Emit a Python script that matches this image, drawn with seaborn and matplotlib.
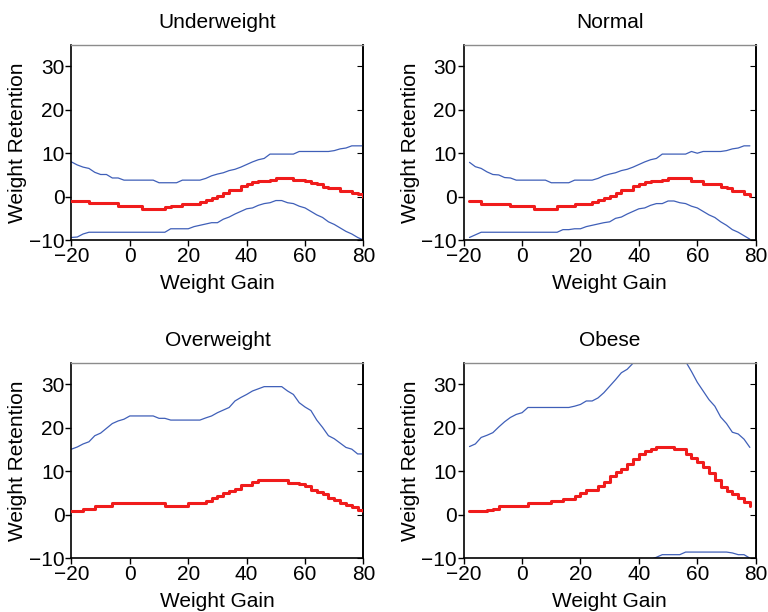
import numpy as np
import pandas as pd
import seaborn as sns
import matplotlib.pyplot as plt

# x grids (weight gain)
gain_full = np.arange(-20, 81, 2)   # -20 .. 80
gain_short = np.arange(-18, 79, 2)  # -18 .. 78

# Underweight
under_upper = [8.0, 7.3, 6.8, 6.5, 5.6, 5.1, 5.1, 4.3, 4.3, 3.8,
               3.8, 3.8, 3.8, 3.8, 3.8, 3.2, 3.2, 3.2, 3.2, 3.8,
               3.8, 3.8, 3.8, 4.2, 4.8, 5.2, 5.5, 6.0, 6.3, 6.8,
               7.4, 8.0, 8.5, 8.8, 9.8, 9.8, 9.8, 9.8, 9.8, 10.4,
               10.4, 10.4, 10.4, 10.4, 10.4, 10.6, 11.0, 11.2, 11.7, 11.7,
               11.7]
under_mid = [-0.9, -0.9, -1.0, -1.45, -1.45, -1.45, -1.45, -1.45, -2.1, -2.1,
             -2.1, -2.1, -2.75, -2.75, -2.75, -2.75, -2.4, -2.1, -2.1, -1.6,
             -1.6, -1.6, -1.3, -0.8, -0.3, 0.2, 0.85, 1.6, 1.6, 2.5,
             3.0, 3.3, 3.7, 3.7, 3.9, 4.3, 4.3, 4.3, 3.75, 3.75,
             3.5, 3.1, 3.0, 2.3, 2.0, 2.0, 1.4, 1.4, 0.85, 0.7,
             0.0]
under_lower = [-9.4, -9.3, -8.6, -8.2, -8.2, -8.2, -8.2, -8.2, -8.2, -8.2,
               -8.2, -8.2, -8.2, -8.2, -8.2, -8.2, -8.2, -7.4, -7.4, -7.4,
               -7.4, -6.9, -6.6, -6.3, -6.0, -6.0, -5.2, -4.7, -4.0, -3.4,
               -2.8, -2.6, -2.0, -1.6, -1.4, -0.9, -0.9, -1.4, -1.6, -2.2,
               -2.6, -3.4, -4.2, -4.8, -5.8, -6.4, -7.2, -8.0, -8.6, -9.4,
               -10.0]

# Normal
normal_upper = [7.9, 6.9, 6.5, 5.7, 5.1, 5.0, 4.4, 4.3, 3.8, 3.8,
                3.8, 3.8, 3.8, 3.8, 3.2, 3.2, 3.2, 3.2, 3.8, 3.8,
                3.8, 3.8, 4.2, 4.8, 5.2, 5.5, 6.0, 6.3, 6.8, 7.4,
                8.0, 8.5, 8.8, 9.8, 9.8, 9.8, 9.8, 9.8, 10.4, 10.0,
                10.4, 10.4, 10.4, 10.4, 10.6, 11.0, 11.2, 11.7, 11.7]
normal_mid = [-1.0, -1.0, -1.65, -1.65, -1.65, -1.65, -1.65, -2.2, -2.2, -2.2,
              -2.2, -2.9, -2.9, -2.9, -2.9, -2.2, -2.2, -2.2, -1.65, -1.65,
              -1.65, -1.3, -0.8, -0.3, 0.2, 0.85, 1.6, 1.6, 2.5, 3.0,
              3.3, 3.7, 3.7, 3.9, 4.3, 4.3, 4.3, 4.3, 3.6, 3.6,
              3.0, 3.0, 3.0, 2.3, 1.9, 1.3, 1.3, 0.7, 0.1]
normal_lower = [-9.4, -8.8, -8.2, -8.2, -8.2, -8.2, -8.2, -8.2, -8.2, -8.2,
                -8.2, -8.2, -8.2, -8.2, -8.2, -8.2, -7.6, -7.6, -7.4, -7.4,
                -6.9, -6.6, -6.3, -6.0, -5.8, -5.0, -4.7, -4.0, -3.4, -2.8,
                -2.6, -2.0, -1.6, -1.6, -1.0, -1.0, -1.4, -1.6, -2.2, -2.6,
                -3.4, -4.2, -4.8, -5.8, -6.6, -7.6, -8.2, -9.0, -9.8]

# Overweight
over_upper = [15.1, 15.6, 16.3, 16.8, 18.2, 18.8, 19.9, 21.0, 21.6, 22.0,
              22.75, 22.75, 22.75, 22.75, 22.75, 22.2, 22.2, 21.8, 21.8, 21.8,
              21.8, 21.8, 21.8, 22.3, 22.75, 23.5, 24.1, 24.7, 26.2, 27.0,
              27.7, 28.5, 29.0, 29.5, 29.5, 29.5, 29.5, 28.5, 27.7, 25.8,
              24.8, 24.0, 21.8, 20.1, 18.2, 17.5, 16.5, 15.5, 15.1, 14.0,
              14.0]
over_mid = [0.9, 0.9, 1.4, 1.4, 2.0, 2.0, 2.0, 2.6, 2.6, 2.6,
            2.6, 2.6, 2.6, 2.6, 2.6, 2.6, 2.0, 2.0, 2.0, 2.0,
            2.6, 2.6, 2.6, 3.1, 3.8, 4.2, 5.0, 5.4, 6.0, 6.9,
            6.9, 7.5, 7.9, 7.9, 7.9, 7.9, 7.9, 7.4, 7.4, 7.0,
            6.6, 5.8, 5.3, 4.8, 3.8, 3.4, 2.7, 2.2, 1.8, 1.0,
            0.8]

# Obese
obese_upper = [15.7, 16.3, 17.8, 18.3, 18.9, 20.2, 21.4, 22.4, 23.1, 23.5,
               24.7, 24.7, 24.7, 24.7, 24.7, 24.7, 24.7, 24.7, 25.0, 25.4,
               26.2, 26.2, 26.9, 28.1, 29.6, 31.1, 32.7, 33.5, 34.9, 37.0,
               38.5, 39.5, 40.0, 40.0, 39.5, 38.5, 37.0, 35.3, 33.0, 30.5,
               28.5, 26.5, 25.0, 22.5, 21.0, 19.0, 18.6, 17.4, 15.5]
obese_mid = [0.9, 0.9, 0.9, 1.1, 1.4, 2.0, 2.0, 2.0, 2.0, 2.0,
             2.6, 2.6, 2.6, 2.6, 3.1, 3.1, 3.7, 3.7, 4.3, 4.9,
             5.6, 5.6, 6.6, 7.5, 9.0, 9.8, 10.6, 11.6, 12.8, 14.0,
             14.6, 15.1, 15.7, 15.7, 15.7, 15.1, 15.1, 14.0, 13.0, 12.1,
             11.0, 9.6, 8.0, 6.4, 5.4, 4.8, 3.9, 3.0, 2.0]
obese_lower = [-21, -21, -20.5, -20, -20, -19.5, -19, -19, -18.5, -18.5,
               -18, -18, -18, -18, -18, -17.5, -17, -16.5, -16, -15.5,
               -15, -14.5, -14, -13.5, -13, -12.5, -12, -11.5, -11, -10.8,
               -10.5, -10.3, -9.8, -9.2, -9.2, -9.2, -9.2, -8.6, -8.6, -8.6,
               -8.6, -8.6, -8.6, -8.6, -8.6, -8.8, -9.2, -9.2, -10.0]

panels = [
    ("Underweight", gain_full, [under_upper, under_mid, under_lower]),
    ("Normal", gain_short, [normal_upper, normal_mid, normal_lower]),
    ("Overweight", gain_full, [over_upper, over_mid]),
    ("Obese", gain_short, [obese_upper, obese_mid, obese_lower]),
]

sns.set_style("ticks")
plt.rcParams['font.family'] = ['Liberation Sans', 'DejaVu Sans']
plt.rcParams['text.color'] = 'black'
plt.rcParams['axes.labelcolor'] = 'black'
fs = 15

blue = '#3f5fb8'
red = '#f01c1c'

fig, axes = plt.subplots(2, 2, figsize=(7.68, 6.12), dpi=100)
fig.subplots_adjust(left=0.093, right=0.984, top=0.927, bottom=0.088,
                    wspace=0.343, hspace=0.628)

for ax, (title, gain, series) in zip(axes.flat, panels):
    for i, vals in enumerate(series):
        df = pd.DataFrame({'gain': gain, 'ret': vals})
        if i == 1:
            # mean curve: thick red staircase
            sns.lineplot(data=df, x='gain', y='ret', ax=ax, color=red,
                         lw=2.2, drawstyle='steps-post', zorder=3)
        else:
            sns.lineplot(data=df, x='gain', y='ret', ax=ax, color=blue,
                         lw=0.9, zorder=2)
    ax.set_xlim(-20, 80)
    ax.set_ylim(-10, 35)
    ax.set_xticks([-20, 0, 20, 40, 60, 80])
    ax.set_yticks([-10, 0, 10, 20, 30])
    ax.set_title(title, fontsize=fs, pad=12, color='black')
    ax.set_xlabel('Weight Gain', fontsize=fs, labelpad=6, color='black')
    ax.set_ylabel('Weight Retention', fontsize=fs, labelpad=1, color='black')
    ax.tick_params(axis='both', direction='out', length=4, width=1,
                   labelsize=fs, pad=1, colors='black')
    for side in ['left', 'bottom', 'right']:
        ax.spines[side].set_color('black')
        ax.spines[side].set_linewidth(1.2)
    ax.spines['top'].set_color('#8c8c8c')
    ax.spines['top'].set_linewidth(1.0)
    sec = ax.secondary_yaxis('right')
    sec.set_yticks([-10, 0, 10, 20, 30])
    sec.tick_params(direction='in', length=4, labelright=False, colors='black')
    sec.spines['right'].set_color('black')
    sec.spines['right'].set_linewidth(1.2)

fig.savefig('out.png', dpi=100)
